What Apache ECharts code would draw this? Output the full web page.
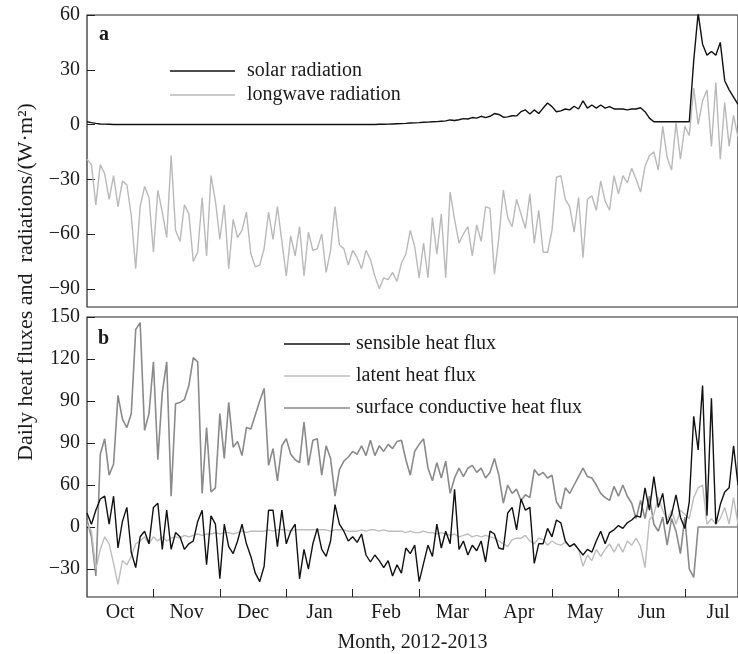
<!DOCTYPE html>
<html><head><meta charset="utf-8">
<script src="https://cdn.jsdelivr.net/npm/echarts@6/dist/echarts.min.js"></script>
<style>html,body{margin:0;padding:0;background:#fff}#c{width:738px;height:654px}</style>
</head><body><div id="c"></div>
<script>
// daily samples every 2 days starting 1 Oct 2012 (day index)
const solar = [
  1.5, 1.0, 0.6, 0.3, 0.2, 0.1, 0, 0, 0, 0,
  0, 0, 0, 0, 0, 0, 0, 0, 0, 0,
  0, 0, 0, 0, 0, 0, 0, 0, 0, 0,
  0, 0, 0, 0, 0, 0, 0, 0, 0, 0,
  0, 0, 0, 0, 0, 0, 0, 0, 0, 0,
  0, 0, 0, 0, 0, 0, 0, 0, 0, 0,
  0, 0, 0, 0, 0, 0, 0.1, 0.1, 0.2, 0.3,
  0.4, 0.5, 0.6, 0.8, 0.9, 1.0, 1.2, 1.3, 1.5, 1.6,
  1.8, 2.0, 2.5, 2.2, 2.6, 3.2, 3.0, 3.8, 3.5, 4.5,
  3.8, 4.5, 6.0, 5.5, 4.0, 4.2, 4.8, 4.7, 7.0, 8.0,
  5.8, 8.0, 6.0, 9.0, 11.8, 9.8, 7.0, 7.5, 8.5, 8.0,
  10.0, 8.5, 13.0, 9.0, 10.7, 9.0, 10.7, 9.0, 9.8, 8.5,
  8.5, 8.5, 8.0, 8.5, 8.5, 9.2, 7.0, 3.5, 1.5, 1.5,
  1.5, 1.5, 1.5, 1.5, 1.5, 1.5, 1.5, 35, 61, 44, 38, 40, 38, 45, 24, 19, 15, 11
];
const longwave = [
  -19, -22, -44, -22, -27, -41, -28, -45, -31, -33,
  -50, -79, -45, -34, -40, -70, -36, -48, -62, -17,
  -58, -64, -44, -49, -75, -70, -40, -72, -28, -42,
  -63, -44, -79, -52, -62, -58, -48, -71, -78, -77,
  -68, -48, -63, -45, -64, -83, -61, -72, -56, -83,
  -59, -69, -68, -60, -81, -69, -45, -66, -68, -77,
  -69, -73, -79, -69, -74, -83, -90, -84, -85, -81,
  -86, -76, -71, -58, -67, -84, -65, -84, -51, -71,
  -49, -84, -37, -52, -65, -60, -56, -72, -55, -64,
  -45, -46, -82, -62, -36, -51, -56, -41, -49, -57,
  -38, -65, -47, -70, -70, -58, -29, -28, -41, -45,
  -59, -40, -73, -41, -39, -47, -31, -42, -47, -28,
  -38, -28, -32, -24, -30, -37, -23, -17, -15, -25,
  -1, -18, -25, 1, -19, -1, -6, 20, 0, 13, 19, -12, 23, -19, 12, -12, 5, -7
];
const sensible = [
  10, 2, 12, 20, 22, 2, 22, -15, 4, 14,
  -18, -29, -7, -3, -12, 14, 17, -16, 12, -16,
  -4, -7, -16, -12, -10, 4, 12, -27, 8, 2,
  -37, 2, -14, -19, -10, 2, -12, -21, -33, -39,
  -28, 12, 12, -14, 12, -12, -3, 2, -37, -16,
  -30, -12, -1, -16, -21, -10, 16, 2, -3, -10,
  -7, -11, -5, -20, -25, -20, -24, -29, -24, -35,
  -27, -33, -15, -19, -13, -39, -26, -13, -21, 2,
  -15, -3, -12, 27, -16, -10, -20, -13, -17, -10,
  -25, -3, -5, -15, -16, 10, 14, -2, 20, 12,
  14, -26, -12, -12, -1, -7, 5, 3, -10, -14,
  -12, -16, -20, -16, -18, -10, -3, -12, -4, -2,
  1, -1, 3, 5, 8, 7, 28, 12, 36, 14,
  24, 2, 9, 23, 7, -1, 18, 79, 55, 101, 8, 92, 2, 16, 25, 28, 58, 30
];
const latent = [
  2, -3, -30, -16, -7, -12, -26, -41, -24, -27,
  -21, -12, -10, -7, -12, -7, -10, -7, -10, -8,
  -7, -8, -6, -7, -6, -5, -6, -5, -5, -4,
  -5, -4, -4, -5, -4, -3, -4, -3, -3, -3,
  -3, -2, -3, -2, -2, -2, -3, -2, -2, -2,
  -2, -2, -2, -2, -2, -3, -2, -2, -2, -3,
  -3, -3, -2, -3, -2, -2, -3, -2, -3, -3,
  -3, -3, -4, -3, -4, -4, -3, -4, -4, -5,
  -4, -5, -6, -5, -7, -6, -5, -7, -6, -7,
  -6, -7, -8, -10, -12, -14, -9, -8, -8, -6,
  -10, -12, -8, -9, -13, -10, -12, -13, -11, -14,
  -12, -16, -28, -20, -24, -16, -21, -16, -12, -18,
  -12, -18, -10, -13, -8, -14, -29, 5, 9, 21,
  12, 5, 12, 2, 12, 9, 6, 21, 28, 30, 2, 6, 2, 6, 14, 2, 21, 2
];
const conductive = [
  5, -7, -35, 52, 63, 37, 45, 94, 77, 71,
  81, 141, 146, 69, 81, 118, 48, 96, 118, 22,
  88, 89, 91, 101, 121, 118, 24, 71, 25, 28,
  81, 49, 89, 57, 61, 51, 71, 70, 80, 90,
  99, 44, 56, 33, 58, 63, 52, 48, 46, 75,
  44, 62, 63, 37, 58, 49, 22, 41, 47, 50,
  54, 52, 58, 51, 62, 51, 58, 54, 59, 56,
  61, 62, 48, 37, 54, 59, 63, 42, 33, 46,
  35, 47, 24, 35, 42, 36, 42, 44, 39, 42,
  35, 39, 49, 37, 17, 30, 24, 27, 19, 23,
  21, 41, 37, 39, 35, 37, 18, 13, 28, 24,
  30, 36, 42, 36, 35, 30, 24, 21, 19, 29,
  22, 30, 22, 17, 6, 19, 6, 22, 2, -3,
  7, -13, 6, -3, -19, 7, -30, -36, 0, 0, 0, 0, 0, 0, 0, 0, 0, 0
];
const monthLabels = ['Oct','Nov','Dec','Jan','Feb','Mar','Apr','May','Jun','Jul'];
const monthCentres = [15, 45, 75, 105, 135, 165, 195, 225, 255, 285];
const monthTicks = [30, 60, 90, 120, 150, 180, 210, 240, 270];
const yTicksA = [-90, -60, -30, 0, 30, 60];
const yLabelsA = ['\u221290', '\u221260', '\u221230', '0', '30', '60'];
const yTicksB = [-30, 0, 30, 60, 90, 120, 150];
const yLabelsB = ['\u221230', '0', '60', '90', '90', '120', '150'];

const days = solar.map((_, i) => i * 2);
const pairs = arr => arr.map((v, i) => [days[i], v]);
const FONT = 'Liberation Serif';
const TXT = '#1a1a1a';

const chart = echarts.init(document.getElementById('c'), null, {renderer: 'canvas'});
const xCommon = {type: 'value', min: 0, max: 294, splitLine: {show: false}, axisLine: {show: false, onZero: false}};
const yCommon = {type: 'value', splitLine: {show: false}, axisLine: {show: false, onZero: false},
  axisTick: {inside: true, length: 8, lineStyle: {color: '#222', width: 1}},
  axisLabel: {color: TXT, fontFamily: FONT, fontSize: 20, margin: 7}};
const legendText = {color: TXT, fontFamily: FONT, fontSize: 20, lineHeight: 20};

chart.setOption({
  animation: false,
  grid: [
    {left: 87, top: 15, right: 0, height: 292, show: true, borderColor: '#222', borderWidth: 1.2},
    {left: 87, top: 317, right: 0, height: 286, show: true, borderColor: '#222', borderWidth: 1.2}
  ],
  xAxis: [
    Object.assign({}, xCommon, {gridIndex: 0, axisTick: {show: false}, axisLabel: {show: false}}),
    Object.assign({}, xCommon, {gridIndex: 1,
      axisTick: {inside: true, length: 8, customValues: monthTicks, lineStyle: {color: '#222', width: 1}},
      axisLabel: {customValues: monthCentres, color: TXT, fontFamily: FONT, fontSize: 20, margin: 6,
        formatter: v => monthLabels[monthCentres.indexOf(v)]},
      name: 'Month, 2012-2013', nameLocation: 'middle', nameGap: 36,
      nameTextStyle: {color: TXT, fontFamily: FONT, fontSize: 20}})
  ],
  yAxis: [
    Object.assign({}, yCommon, {gridIndex: 0, min: -100, max: 60,
      axisTick: Object.assign({}, yCommon.axisTick, {customValues: yTicksA}),
      axisLabel: Object.assign({}, yCommon.axisLabel, {customValues: yTicksA,
        formatter: v => yLabelsA[yTicksA.indexOf(v)]})}),
    Object.assign({}, yCommon, {gridIndex: 1, min: -50, max: 150,
      axisTick: Object.assign({}, yCommon.axisTick, {customValues: yTicksB}),
      axisLabel: Object.assign({}, yCommon.axisLabel, {customValues: yTicksB,
        formatter: v => yLabelsB[yTicksB.indexOf(v)]})})
  ],
  legend: [
    {data: ['solar radiation', 'longwave radiation'], orient: 'vertical', left: 170, top: 61, padding: 0,
      icon: 'rect', itemWidth: 65, itemHeight: 1.5, itemGap: 4,
      textStyle: Object.assign({}, legendText, {padding: [0, 0, 0, 7]})},
    {data: ['sensible heat flux', 'latent heat flux', 'surface conductive heat flux'], orient: 'vertical',
      left: 284, top: 334, padding: 0, icon: 'rect', itemWidth: 66, itemHeight: 1.5, itemGap: 12,
      textStyle: Object.assign({}, legendText, {padding: [0, 0, 0, 1]})}
  ],
  graphic: [
    {type: 'text', left: 99, top: 25, style: {text: 'a', font: 'bold 20px "Liberation Serif"', fill: TXT}},
    {type: 'text', left: 98, top: 329, style: {text: 'b', font: 'bold 20px "Liberation Serif"', fill: TXT}},
    {type: 'text', x: 26, y: 282, rotation: Math.PI / 2,
      style: {text: 'Daily heat fluxes and  radiations/(W\u00b7m\u00b2)', font: '22px "Liberation Serif"',
        fill: TXT, align: 'center', verticalAlign: 'middle'}}
  ],
  series: [
    {name: 'solar radiation', type: 'line', xAxisIndex: 0, yAxisIndex: 0, data: pairs(solar),
      symbol: 'none', color: '#111', lineStyle: {color: '#111', width: 1.4}, z: 3},
    {name: 'longwave radiation', type: 'line', xAxisIndex: 0, yAxisIndex: 0, data: pairs(longwave),
      symbol: 'none', color: '#b9b9b9', lineStyle: {color: '#b9b9b9', width: 1.4}, z: 2},
    {name: 'sensible heat flux', type: 'line', xAxisIndex: 1, yAxisIndex: 1, data: pairs(sensible),
      symbol: 'none', color: '#111', lineStyle: {color: '#111', width: 1.4}, z: 4},
    {name: 'latent heat flux', type: 'line', xAxisIndex: 1, yAxisIndex: 1, data: pairs(latent),
      symbol: 'none', color: '#bdbdbd', lineStyle: {color: '#bdbdbd', width: 1.4}, z: 3},
    {name: 'surface conductive heat flux', type: 'line', xAxisIndex: 1, yAxisIndex: 1, data: pairs(conductive),
      symbol: 'none', color: '#8a8a8a', lineStyle: {color: '#8a8a8a', width: 1.6}, z: 2}
  ]
});
</script></body></html>
